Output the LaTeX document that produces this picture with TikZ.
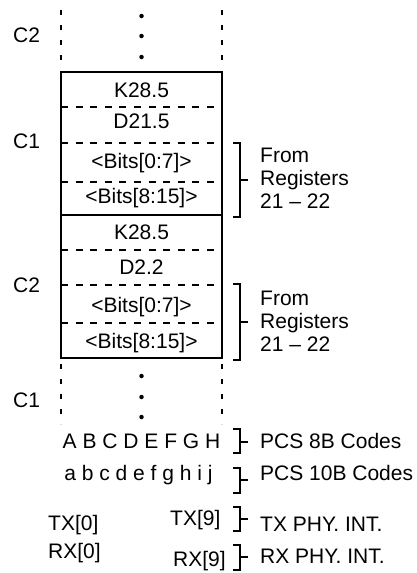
\documentclass[tikz,border=0pt]{standalone}
\usepackage{fontspec}
\setmainfont{Liberation Sans}
\begin{document}
\begin{tikzpicture}[x=1pt,y=-1pt,
  txt/.style={inner sep=0pt,font=\fontsize{21}{25}\selectfont},
  lbl/.style={txt,anchor=base west},
  ctr/.style={txt,anchor=base},
  boxline/.style={line width=2pt},
  rowsep/.style={line width=1.8pt,dash pattern=on 7pt off 7.6pt},
  vdash/.style={line width=1.3pt,dash pattern=on 5pt off 10pt},
  brk/.style={line width=1.3pt},
  dot/.style={circle,fill=black,inner sep=0pt,minimum size=4.5pt}]
\useasboundingbox (0,0) rectangle (416,573);
% column edges
\coordinate (tl) at (61,10);  \coordinate (tr) at (222,10);
\coordinate (tlb) at (61,64); \coordinate (trb) at (222,64);
\coordinate (b1tl) at (61,72); \coordinate (b1br) at (222,215);
\coordinate (b2br) at (222,358);
\coordinate (bl) at (61,364);  \coordinate (br) at (222,364);
\coordinate (blb) at (61,424); \coordinate (brb) at (222,424);
% top continuation
\draw[vdash] (tl) -- (tlb);
\draw[vdash] (tr) -- (trb);
\node[dot] (d1) at (141.5,16) {};
\node[dot] (d2) at (141.5,36) {};
\node[dot] (d3) at (141.5,57) {};
% box 1
\draw[boxline] (b1tl) rectangle (b1br);
\draw[rowsep] (61,107) -- (222,107);
\draw[rowsep] (61,143) -- (222,143);
\draw[rowsep] (61,182) -- (222,182);
% box 2
\draw[boxline] (61,215) rectangle (b2br);
\draw[rowsep] (61,250) -- (222,250);
\draw[rowsep] (61,285) -- (222,285);
\draw[rowsep] (61,323) -- (222,323);
% bottom continuation
\draw[vdash] (bl) -- (blb);
\draw[vdash] (br) -- (brb);
\node[dot] (d4) at (141.5,376) {};
\node[dot] (d5) at (141.5,397) {};
\node[dot] (d6) at (141.5,417) {};
% box texts
\node[ctr] (k1) at (141.5,97) {K28.5};
\node[ctr] (dd1) at (141.5,128) {D21.5};
\node[ctr] (ba1) at (141.5,168) {<Bits[0:7]>};
\node[ctr] (bb1) at (141.5,203) {<Bits[8:15]>};
\node[ctr] (k2) at (141.5,239) {K28.5};
\node[ctr] (dd2) at (141.5,274) {D2.2};
\node[ctr] (ba2) at (141.5,312) {<Bits[0:7]>};
\node[ctr] (bb2) at (141.5,348) {<Bits[8:15]>};
% left labels
\node[lbl] (c2a) at (13,42) {C2};
\node[lbl] (c1a) at (13,148) {C1};
\node[lbl] (c2b) at (13,292) {C2};
\node[lbl] (c1b) at (13,407) {C1};
% brackets right of boxes
\draw[brk] (233,143) -- (240,143) -- (240,217) -- (233,217);
\draw[brk] (240,180) -- (248,180);
\node[lbl] (f1a) at (260,162) {From};
\node[lbl] (f1b) at (260,185) {Registers};
\node[lbl] (f1c) at (260,208) {21 -- 22};
\draw[brk] (233,284) -- (240,284) -- (240,360) -- (233,360);
\draw[brk] (240,322) -- (248,322);
\node[lbl] (f2a) at (260,305) {From};
\node[lbl] (f2b) at (260,328) {Registers};
\node[lbl] (f2c) at (260,351) {21 -- 22};
% code rows
\node[ctr] (c8) at (141.5,448) {A B C D E F G H};
\draw[brk] (233,429) -- (240,429) -- (240,453) -- (233,453);
\draw[brk] (240,442) -- (248,442);
\node[lbl] (p8) at (260,448) {PCS 8B Codes};
\node[ctr] (c10) at (138.5,480) {a b c d e f g h i j};
\draw[brk] (233,468) -- (240,468) -- (240,493) -- (233,493);
\draw[brk] (240,480) -- (248,480);
\node[lbl] (p10) at (260,480) {PCS 10B Codes};
% phy rows
\node[lbl] (tx0) at (48,530) {TX[0]};
\node[lbl] (tx9) at (170,525) {TX[9]};
\draw[brk] (233,507) -- (240,507) -- (240,531) -- (233,531);
\draw[brk] (240,519) -- (248,519);
\node[lbl] (txl) at (260,531) {TX PHY. INT.};
\node[lbl] (rx0) at (48,558) {RX[0]};
\node[lbl] (rx9) at (173,566) {RX[9]};
\draw[brk] (233,545) -- (240,545) -- (240,570) -- (233,570);
\draw[brk] (240,557) -- (248,557);
\node[lbl] (rxl) at (260,563) {RX PHY. INT.};
\end{tikzpicture}
\end{document}
